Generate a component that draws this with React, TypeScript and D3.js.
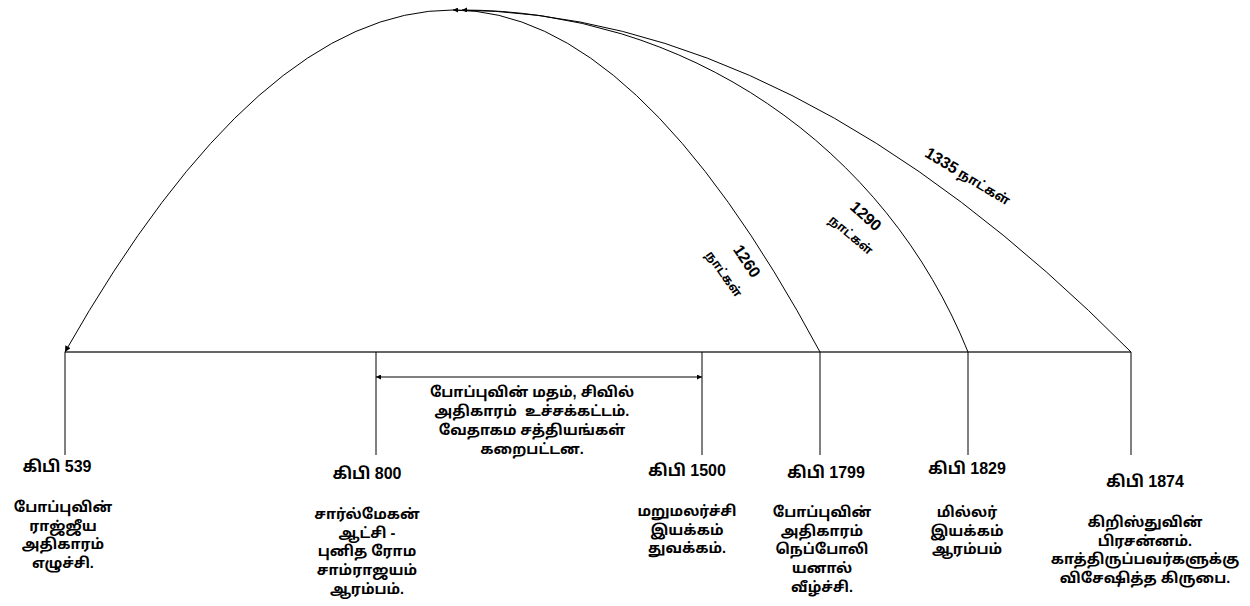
import React from "react";
import * as d3 from "d3";

// ---------- data ----------
const years = ["539", "800", "1500", "1799", "1829", "1874"];
const eventLabels = ["கிபி 539", "கிபி 800", "கிபி 1500", "கிபி 1799", "கிபி 1829", "கிபி 1874"];
const eventDescriptions = [
  ["போப்புவின்", "ராஜ்ஜீய", "அதிகாரம்", "எழுச்சி."],
  ["சார்ல்மேகன்", "ஆட்சி -", "புனித ரோம", "சாம்ராஜயம்", "ஆரம்பம்."],
  ["மறுமலர்ச்சி", "இயக்கம்", "துவக்கம்."],
  ["போப்புவின்", "அதிகாரம்", "நெப்போலி", "யனால்", "வீழ்ச்சி."],
  ["மில்லர்", "இயக்கம்", "ஆரம்பம்"],
  ["கிறிஸ்துவின்", "பிரசன்னம்.", "காத்திருப்பவர்களுக்கு", "விசேஷித்த கிருபை."],
];
const periodFrom = "800";
const periodTo = "1500";
const periodLines = ["போப்புவின் மதம், சிவில்", "அதிகாரம்  உச்சக்கட்டம்.", "வேதாகம சத்தியங்கள்", "கறைபட்டன."];
const prophecyDays = ["1260", "1290", "1335"];
const prophecyEnds = ["1799", "1829", "1874"];
const prophecyStart = "539";
const daysWord = "நாட்கள்";

// ---------- layout ----------
const W = 1250;
const H = 606;
const tickX = [65, 376, 702, 820, 968, 1131];
const labelX = [57, 367, 687, 826, 967, 1145];
const labelY = [472, 479, 476, 478, 474, 487];
const descX = [63, 367, 687, 822, 967, 1145];
const descY = [512, 519, 516, 517, 517, 527];
const lineGap = 18.7;
const baseY = 352;
const tickBottom = 455;
const apexY = 10;
const apexX = [453, 462, 453];
const arcKinds = ["parabola", "circle", "parabola"];
const arcLabelPos = [
  { x: 747, y: 261, a: 56, x2: 724, y2: 274, a2: 55 },
  { x: 866, y: 216, a: 42, x2: 851, y2: 235, a2: 40 },
  { x: 968, y: 176, a: 31 },
];
const FONT = "'Liberation Sans', 'Noto Sans Tamil', Arial, sans-serif";
const descSize = 14.5;

const xScale = d3.scaleOrdinal<string, number>().domain(years).range(tickX);

function arcPath(i: number): string {
  const p = d3.path();
  const x1 = xScale(prophecyEnds[i]);
  const ax = apexX[i];
  if (arcKinds[i] === "circle") {
    const dx = x1 - ax;
    const dy = baseY - apexY;
    const r = (dx * dx + dy * dy) / (2 * dy);
    const cx = ax;
    const cy = apexY + r;
    const a0 = Math.atan2(baseY - cy, x1 - cx);
    const a1 = -Math.PI / 2;
    p.arc(cx, cy, r, a0, a1, true);
  } else {
    p.moveTo(x1, baseY);
    p.quadraticCurveTo((x1 + ax) / 2, apexY, ax, apexY);
  }
  if (i === 0) {
    const x0 = xScale(prophecyStart);
    p.quadraticCurveTo((ax + x0) / 2, apexY, x0, baseY);
  }
  return p.toString();
}

export default function App() {
  const pFrom = xScale(periodFrom);
  const pTo = xScale(periodTo);
  const periodY = 377;
  return (
    <svg
      width={W}
      height={H}
      viewBox={`0 0 ${W} ${H}`}
      style={{ position: "absolute", left: 0, top: 0, background: "#fff" }}
      fontFamily={FONT}
    >
      <defs>
        <marker id="arrBig" viewBox="0 0 10 10" refX="10" refY="5" markerWidth="9" markerHeight="6"
          markerUnits="userSpaceOnUse" orient="auto-start-reverse">
          <path d="M0,0 L10,5 L0,10 z" fill="#000" />
        </marker>
        <marker id="arrSmall" viewBox="0 0 10 10" refX="10" refY="5" markerWidth="7" markerHeight="5"
          markerUnits="userSpaceOnUse" orient="auto-start-reverse">
          <path d="M0,0 L10,5 L0,10 z" fill="#000" />
        </marker>
        <marker id="arrMid" viewBox="0 0 10 10" refX="10" refY="5" markerWidth="9" markerHeight="5"
          markerUnits="userSpaceOnUse" orient="auto-start-reverse">
          <path d="M0,0 L10,5 L0,10 z" fill="#000" />
        </marker>
      </defs>
      <rect x={0} y={0} width={W} height={H} fill="#fff" />

      {/* baseline */}
      <line x1={xScale(years[0])} x2={xScale(years[years.length - 1])} y1={baseY} y2={baseY}
        stroke="#333" strokeWidth={1.3} />

      {/* ticks */}
      {years.map((y) => (
        <line key={y} x1={xScale(y)} x2={xScale(y)} y1={baseY} y2={tickBottom} stroke="#000" strokeWidth={1} />
      ))}

      {/* period arrow */}
      <line x1={pFrom} x2={pTo} y1={periodY} y2={periodY} stroke="#000" strokeWidth={1}
        markerStart="url(#arrMid)" markerEnd="url(#arrMid)" />
      {periodLines.map((t, i) => (
        <text key={i} x={532} y={397 + i * 19} textAnchor="middle" fontSize={descSize} fontWeight="bold"
          style={{ whiteSpace: "pre" }}>
          {t}
        </text>
      ))}

      {/* prophecy arcs */}
      {prophecyDays.map((d, i) => (
        <path key={d} d={arcPath(i)} fill="none" stroke="#000" strokeWidth={1}
          markerEnd={i === 0 ? "url(#arrBig)" : "url(#arrSmall)"} />
      ))}

      {/* arc labels */}
      {prophecyDays.map((d, i) => {
        const L = arcLabelPos[i];
        if (i < 2) {
          return (
            <g key={d}>
              <text transform={`translate(${L.x},${L.y}) rotate(${L.a})`} textAnchor="middle" dy="0.35em"
                fontSize={16} fontWeight="bold">{d}</text>
              <text transform={`translate(${L.x2},${L.y2}) rotate(${L.a2})`} textAnchor="middle" dy="0.35em"
                fontSize={12} fontWeight="bold">{daysWord}</text>
            </g>
          );
        }
        return (
          <text key={d} transform={`translate(${L.x},${L.y}) rotate(${L.a})`} textAnchor="middle" dy="0.35em"
            fontWeight="bold">
            <tspan fontSize={16}>{d}</tspan>
            <tspan fontSize={13}>{" " + daysWord}</tspan>
          </text>
        );
      })}

      {/* event labels */}
      {years.map((y, i) => (
        <g key={"ev" + y}>
          <text x={labelX[i]} y={labelY[i]} textAnchor="middle" fontSize={16} fontWeight="bold">
            {eventLabels[i]}
          </text>
          {eventDescriptions[i].map((t, j) => (
            <text key={j} x={descX[i]} y={descY[i] + j * lineGap} textAnchor="middle" fontSize={descSize}
              fontWeight="bold">
              {t}
            </text>
          ))}
        </g>
      ))}
    </svg>
  );
}
